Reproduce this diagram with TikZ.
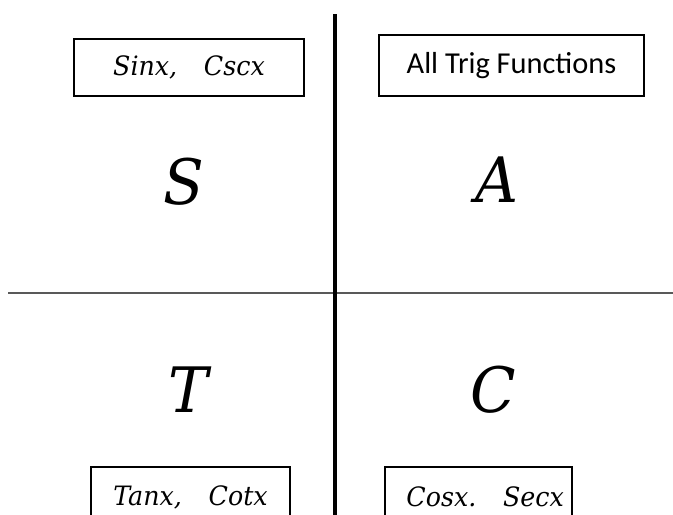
\documentclass[tikz,border=0pt]{standalone}
\usepackage{fontspec}
\newfontfamily\calibri{Carlito}
\newfontfamily\cambit{DejaVu Serif}[FakeStretch=0.95]

\begin{document}
\begin{tikzpicture}[x=0.75pt, y=-0.75pt, every node/.style={inner sep=0pt}, tagbox/.style={draw, line width=1.1pt, font=\cambit\itshape\fontsize{20}{24}\selectfont}, quadl/.style={font=\cambit\itshape\fontsize{47}{52}\selectfont}]
	\clip (0,0) rectangle (673,514);
	\coordinate (vtop) at (335,14);
	\coordinate (vbot) at (335,520);
	\coordinate (hleft) at (8,293);
	\coordinate (hright) at (680,293);
	\draw[black!65, line width=1.4pt] (hleft) -- (hright);
	\draw[line width=2.3pt] (vtop) -- (vbot);
	\node[tagbox, minimum width=172.5pt, minimum height=42.75pt] (sincsc) at (189,67.5) {Sinx,\quad Cscx};
	\node[tagbox, minimum width=198.75pt, minimum height=45.75pt, font=\calibri\fontsize{22.8}{26}\selectfont] (alltrig) at (511.5,65.5) {All Trig Functions};
	\node[tagbox, minimum width=149.25pt, minimum height=45pt] (tancot) at (190.5,497) {Tanx,\quad Cotx};
	\node[tagbox, minimum width=140.25pt, minimum height=45pt] (cossec) at (478.5,497) {\hspace{10pt}Cosx.\quad Secx};
	\node[quadl] (qs) at (184,182) {S};
	\node[quadl] (qa) at (497,180) {A};
	\node[quadl] (qt) at (188,390) {T};
	\node[quadl] (qc) at (493,390) {C};
\end{tikzpicture}
\end{document}
